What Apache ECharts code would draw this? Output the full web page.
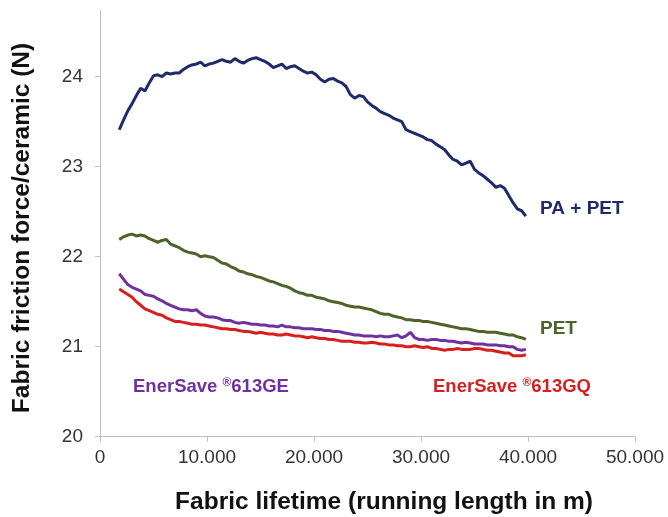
<!DOCTYPE html>
<html>
<head>
<meta charset="utf-8">
<script src="https://cdn.jsdelivr.net/npm/echarts@6/dist/echarts.min.js"></script>
<style>html,body{margin:0;padding:0;background:#fff}#c{width:668px;height:517px}</style>
</head>
<body>
<div id="c"></div>
<script>
const xValues = [
  1800,2200,2600,3000,3400,3800,4200,4600,5000,5400,
  5800,6200,6600,7000,7400,7800,8200,8600,9000,9400,
  9800,10200,10600,11000,11400,11800,12200,12600,13000,13400,
  13800,14200,14600,15000,15400,15800,16200,16600,17000,17400,
  17800,18200,18600,19000,19400,19800,20200,20600,21000,21400,
  21800,22200,22600,23000,23400,23800,24200,24600,25000,25400,
  25800,26200,26600,27000,27400,27800,28200,28600,29000,29400,
  29800,30200,30600,31000,31400,31800,32200,32600,33000,33400,
  33800,34200,34600,35000,35400,35800,36200,36600,37000,37400,
  37800,38200,38600,39000,39400,39800];
const paPet = [
  23.41,23.52,23.62,23.70,23.79,23.87,23.84,23.93,24.01,24.02,
  24.00,24.04,24.03,24.04,24.04,24.08,24.11,24.13,24.14,24.16,
  24.12,24.14,24.15,24.17,24.19,24.17,24.16,24.20,24.17,24.15,
  24.18,24.20,24.21,24.19,24.17,24.14,24.10,24.12,24.14,24.09,
  24.11,24.12,24.09,24.06,24.04,24.05,24.02,23.97,23.94,23.97,
  23.98,23.95,23.93,23.89,23.80,23.76,23.79,23.78,23.72,23.68,
  23.65,23.61,23.59,23.57,23.54,23.52,23.50,23.41,23.39,23.37,
  23.35,23.33,23.30,23.29,23.25,23.22,23.19,23.13,23.08,23.06,
  23.02,23.04,23.06,22.97,22.93,22.90,22.86,22.82,22.77,22.79,
  22.76,22.68,22.60,22.53,22.51,22.45];
const pet = [
  22.19,22.22,22.24,22.25,22.23,22.24,22.23,22.20,22.18,22.16,
  22.18,22.19,22.14,22.12,22.10,22.07,22.05,22.04,22.03,22.00,
  22.01,22.00,21.99,21.96,21.93,21.92,21.89,21.87,21.84,21.83,
  21.81,21.80,21.78,21.77,21.75,21.73,21.72,21.70,21.68,21.67,
  21.65,21.62,21.60,21.59,21.57,21.57,21.55,21.54,21.53,21.51,
  21.50,21.49,21.48,21.46,21.45,21.44,21.44,21.43,21.42,21.41,
  21.39,21.37,21.36,21.36,21.34,21.33,21.32,21.30,21.30,21.29,
  21.29,21.28,21.28,21.27,21.26,21.25,21.24,21.23,21.22,21.21,
  21.20,21.20,21.19,21.18,21.17,21.17,21.16,21.16,21.16,21.15,
  21.14,21.13,21.13,21.11,21.10,21.08];
const ge613 = [
  21.81,21.75,21.69,21.66,21.64,21.62,21.58,21.57,21.56,21.53,
  21.51,21.48,21.46,21.44,21.42,21.41,21.41,21.40,21.41,21.37,
  21.34,21.33,21.33,21.32,21.30,21.29,21.29,21.27,21.26,21.27,
  21.26,21.25,21.25,21.24,21.24,21.23,21.23,21.22,21.24,21.22,
  21.22,21.21,21.21,21.20,21.20,21.20,21.19,21.19,21.18,21.18,
  21.17,21.17,21.16,21.15,21.14,21.13,21.13,21.12,21.12,21.12,
  21.11,21.12,21.11,21.11,21.12,21.13,21.10,21.12,21.16,21.10,
  21.08,21.08,21.07,21.08,21.08,21.07,21.07,21.06,21.06,21.05,
  21.04,21.05,21.04,21.03,21.03,21.03,21.02,21.02,21.02,21.01,
  21.01,21.00,21.00,20.97,20.96,20.97];
const gq613 = [
  21.64,21.61,21.58,21.55,21.50,21.46,21.42,21.40,21.38,21.36,
  21.35,21.32,21.30,21.28,21.28,21.27,21.26,21.25,21.25,21.24,
  21.24,21.23,21.22,21.21,21.20,21.20,21.19,21.19,21.18,21.17,
  21.17,21.16,21.15,21.16,21.15,21.14,21.14,21.13,21.13,21.14,
  21.13,21.12,21.12,21.11,21.10,21.11,21.10,21.09,21.09,21.08,
  21.08,21.07,21.06,21.06,21.06,21.05,21.05,21.04,21.04,21.05,
  21.04,21.03,21.03,21.02,21.02,21.01,21.01,21.00,21.00,21.01,
  21.00,20.99,21.00,20.98,20.98,20.97,20.96,20.97,20.97,20.98,
  20.97,20.97,20.97,20.98,20.98,20.97,20.96,20.96,20.95,20.94,
  20.93,20.93,20.90,20.90,20.90,20.91];
const yTicks = [20,21,22,23,24];
const xTitle = 'Fabric lifetime (running length in m)';
const yTitle = 'Fabric friction force/ceramic (N)';

const colors = {pa:'#1f2a6b', pet:'#4f6228', ge:'#7030a0', gq:'#d81e1e'};
const zip = (ys) => xValues.map((x,i)=>[x, ys[i]]);
const chart = echarts.init(document.getElementById('c'), null, {renderer:'canvas'});
const mkSeries = (name, data, color) => ({
  name, type:'line', data: zip(data), symbol:'none', smooth:false,
  lineStyle:{color, width:3}, itemStyle:{color}
});
const axisCol = '#bfbfbf';
const font = 'Liberation Sans, Arial, sans-serif';
const lbl = (text, color, left, top) => ({
  type:'text', left, top,
  style:{text, fill:color, font:'bold 19px ' + font}
});
const supText = (base, rest, color, left, top) => ({
  type:'text', left, top, style:{
    text: base + '{s|®}' + rest, fill:color, font:'bold 18.5px ' + font,
    rich:{s:{fontSize:12, fontWeight:'bold', fontFamily:font, fill:color, verticalAlign:'top', padding:[0,0,8,0]}}
  }
});
chart.setOption({
  animation:false,
  grid:{left:100, right:33, top:10, bottom:80.3},
  xAxis:{
    type:'value', min:0, max:50000, interval:10000,
    axisLine:{lineStyle:{color:axisCol, width:1}},
    axisTick:{show:true, length:5, lineStyle:{color:axisCol}},
    splitLine:{show:false},
    axisLabel:{color:'#333', fontSize:19, fontFamily:font, margin:12,
      formatter:(v)=> v===0 ? '0' : (v/1000).toFixed(0)+'.000'}
  },
  yAxis:{
    type:'value', min:20, max:24.74, interval:1,
    axisLine:{show:true, lineStyle:{color:axisCol, width:1}},
    axisTick:{show:true, length:5, lineStyle:{color:axisCol}, customValues:yTicks},
    splitLine:{show:false},
    axisLabel:{color:'#333', fontSize:19, fontFamily:font, margin:17, customValues:yTicks}
  },
  series:[
    mkSeries('PA + PET', paPet, colors.pa),
    mkSeries('PET', pet, colors.pet),
    mkSeries('EnerSave 613GE', ge613, colors.ge),
    mkSeries('EnerSave 613GQ', gq613, colors.gq)
  ],
  graphic:[
    {type:'text', x:384, y:502, style:{text:xTitle, fill:'#111', font:'bold 24.5px ' + font, align:'center', verticalAlign:'middle'}},
    {type:'text', x:22, y:228, rotation:Math.PI/2, style:{text:yTitle, fill:'#111', font:'bold 24.5px ' + font, align:'center', verticalAlign:'middle'}},
    lbl('PA + PET', colors.pa, 540, 199),
    lbl('PET', colors.pet, 540, 319),
    supText('EnerSave ', '613GE', colors.ge, 133, 377),
    supText('EnerSave ', '613GQ', colors.gq, 433, 377)
  ]
});
</script>
</body>
</html>
